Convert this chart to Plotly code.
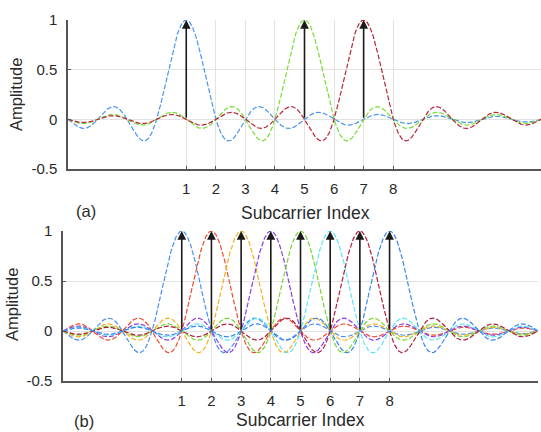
import numpy as np
import plotly.graph_objects as go

# ---- data ----
x_min, x_max = -3, 13
tick_vals = [1, 2, 3, 4, 5, 6, 7, 8]
tick_text = ["1", "2", "3", "4", "5", "6", "7", "8"]
y_ticks = [-0.5, 0, 0.5, 1]
y_tick_text = ["-0.5", "0", "0.5", "1"]

centers_a = [1, 5, 7]
colors_a = ["#4a94f0", "#77dd33", "#b8263a"]

centers_b = [1, 2, 3, 4, 5, 6, 7, 8]
colors_b = ["#4a90f0", "#f04a30", "#f5b020", "#8a3ce8",
            "#77d633", "#5ae6f5", "#b01c3c", "#3a86f0"]
peak = 1.0

xs = np.linspace(x_min, x_max, 1601)

fig = go.Figure()

def add_panel(centers, colors, xa, ya):
    for c, col in zip(centers, colors):
        fig.add_trace(go.Scatter(
            x=xs, y=peak * np.sinc(xs - c), mode="lines",
            line=dict(color=col, width=1.2, dash="5px,2px"),
            xaxis=xa, yaxis=ya, showlegend=False, hoverinfo="skip"))

add_panel(centers_a, colors_a, "x", "y")
add_panel(centers_b, colors_b, "x2", "y2")

annotations = []
for c in centers_a:
    annotations.append(dict(x=c, y=peak, ax=c, ay=0, xref="x", yref="y",
                            axref="x", ayref="y", showarrow=True, text="",
                            arrowhead=2, arrowsize=1.1, arrowwidth=1.6,
                            arrowcolor="#1a1a1a"))
for c in centers_b:
    annotations.append(dict(x=c, y=peak, ax=c, ay=0, xref="x2", yref="y2",
                            axref="x2", ayref="y2", showarrow=True, text="",
                            arrowhead=2, arrowsize=1.1, arrowwidth=1.6,
                            arrowcolor="#1a1a1a"))

ff = "Liberation Sans, Arial, sans-serif"
W, H = 541, 432
def px(xp, yp):
    return xp / W, 1 - yp / H

for txt, (xp, yp), rot, sz in [("Amplitude", (16, 95), -90, 16.5),
                               ("Subcarrier Index", (305, 213), 0, 17.5),
                               ("(a)", (86, 211), 0, 16.5),
                               ("Amplitude", (12, 305), -90, 16.5),
                               ("Subcarrier Index", (300, 420), 0, 17.5),
                               ("(b)", (84, 421), 0, 16.5)]:
    xx, yy = px(xp, yp)
    annotations.append(dict(x=xx, y=yy, xref="paper", yref="paper", text=txt,
                            showarrow=False, textangle=rot,
                            font=dict(family=ff, size=sz, color="#2a2a2a"),
                            xanchor="center", yanchor="middle"))

axis_common = dict(showline=True, linecolor="#555", linewidth=1.5,
                   ticks="inside", ticklen=3, tickcolor="#555",
                   showgrid=True, gridcolor="#e2e2e2", gridwidth=1,
                   zeroline=False, automargin=False,
                   tickfont=dict(family=ff, size=15, color="#2a2a2a"))

fig.update_layout(
    width=W, height=H, margin=dict(l=0, r=0, t=0, b=0, pad=0),
    paper_bgcolor="white", plot_bgcolor="white",
    xaxis=dict(domain=[68 / W, 1.0], range=[x_min, x_max], tickvals=tick_vals,
               ticktext=tick_text, anchor="y", ticklabelstandoff=5, **axis_common),
    yaxis=dict(domain=[1 - 169 / H, 1 - 20 / H], range=[-0.5, 1],
               tickvals=y_ticks, ticktext=y_tick_text, anchor="x",
               ticklabelstandoff=6, **axis_common),
    xaxis2=dict(domain=[63 / W, 538 / W], range=[x_min, x_max], tickvals=tick_vals,
                ticktext=tick_text, anchor="y2", ticklabelstandoff=5, **axis_common),
    yaxis2=dict(domain=[1 - 381 / H, 1 - 231 / H], range=[-0.5, 1],
                tickvals=y_ticks, ticktext=y_tick_text, anchor="x2",
                ticklabelstandoff=6, **axis_common),
    annotations=annotations,
)

fig.write_html("out.html", config={"displayModeBar": False},
               post_script="document.body.style.margin='0';document.body.style.padding='0';document.body.style.overflow='hidden';")
